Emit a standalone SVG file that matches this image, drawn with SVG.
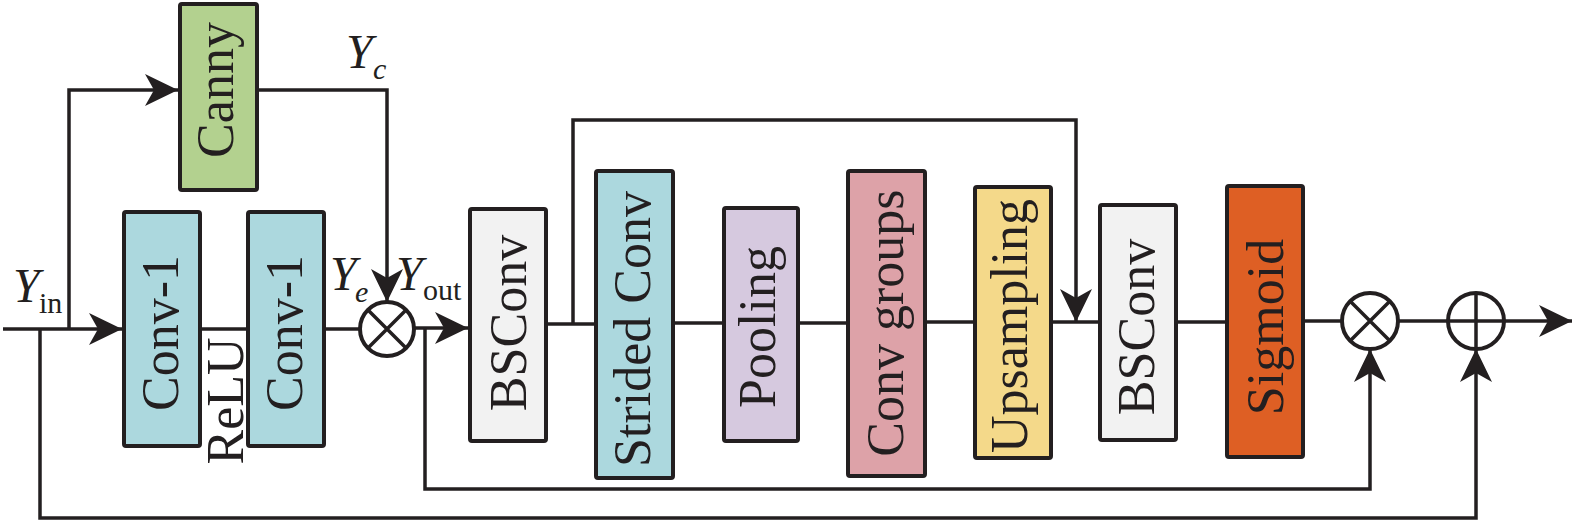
<svg xmlns="http://www.w3.org/2000/svg" width="1575" height="522" viewBox="0 0 1575 522">
<style>
.box{stroke:#231f20;stroke-width:4;}
.lbl{font-family:"Liberation Serif","Times New Roman",serif;font-size:52px;fill:#231f20;text-anchor:middle;}
.ln{fill:none;stroke:#231f20;stroke-width:3.5;}
.ar{fill:none;stroke:#231f20;stroke-width:3.5;marker-end:url(#ah);}
.op{fill:#ffffff;stroke:#231f20;stroke-width:4;}
.opl{stroke:#231f20;stroke-width:3.5;}
.math{font-family:"Liberation Serif","Times New Roman",serif;fill:#231f20;}
</style>
<defs>
<marker id="ah" viewBox="0 0 33 32" refX="33" refY="16" markerWidth="33" markerHeight="32" markerUnits="userSpaceOnUse" orient="auto">
<path d="M0,0 L33,16 L0,32 L9,16 Z" fill="#231f20"/>
</marker>
</defs>
<rect width="1575" height="522" fill="#ffffff"/>

<g id="connectors">
<path class="ar" d="M3,329 H122"/>
<path class="ar" d="M69,329 V90 H178"/>
<path class="ar" d="M40,329 V518 H1476 V349"/>
<path class="ln" d="M202,329 H246"/>
<path class="ln" d="M326,329 H360"/>
<path class="ar" d="M259,90 H387 V302"/>
<path class="ar" d="M414,328 H468"/>
<path class="ar" d="M425,328 V489 H1370 V349"/>
<path class="ln" d="M548,324 H594"/>
<path class="ar" d="M573,324 V120 H1076 V322"/>
<path class="ln" d="M675,323 H722"/>
<path class="ln" d="M800,323 H846"/>
<path class="ln" d="M927,322 H973"/>
<path class="ln" d="M1053,322 H1098"/>
<path class="ln" d="M1178,322 H1225"/>
<path class="ln" d="M1305,321 H1342"/>
<path class="ln" d="M1398,321 H1448"/>
<path class="ar" d="M1504,321 H1572"/>
</g>

<g id="canny">
<rect class="box" x="180" y="4" width="77" height="186" rx="2" fill="#b3d18f"/>
<text class="lbl" transform="translate(233,90) rotate(-90)">Canny</text>
</g>
<g id="conv1a">
<rect class="box" x="124" y="212" width="76" height="234" rx="2" fill="#acd8de"/>
<text class="lbl" transform="translate(178,333) rotate(-90)">Conv-1</text>
</g>
<g id="relu">
<text class="lbl" transform="translate(243,401) rotate(-90)">ReLU</text>
</g>
<g id="conv1b">
<rect class="box" x="248" y="212" width="76" height="234" rx="2" fill="#acd8de"/>
<text class="lbl" transform="translate(302,333) rotate(-90)">Conv-1</text>
</g>
<g id="mul1">
<circle class="op" cx="387" cy="329" r="27"/>
<path class="opl" d="M368,310 L406,348 M406,310 L368,348"/>
</g>
<g id="bsconv1">
<rect class="box" x="470" y="209" width="76" height="232" rx="2" fill="#f2f2f2"/>
<text class="lbl" transform="translate(526,323) rotate(-90)">BSConv</text>
</g>
<g id="strided">
<rect class="box" x="596" y="171" width="77" height="307" rx="2" fill="#acd8de"/>
<text class="lbl" transform="translate(650,329) rotate(-90)">Strided Conv</text>
</g>
<g id="pooling">
<rect class="box" x="724" y="208" width="74" height="233" rx="2" fill="#d6c9df"/>
<text class="lbl" transform="translate(775,327) rotate(-90)">Pooling</text>
</g>
<g id="convgroups">
<rect class="box" x="848" y="171" width="77" height="305" rx="2" fill="#dda2a8"/>
<text class="lbl" transform="translate(903,323) rotate(-90)">Conv groups</text>
</g>
<g id="upsampling">
<rect class="box" x="975" y="187" width="76" height="271" rx="2" fill="#f4d98a"/>
<text class="lbl" transform="translate(1027,326) rotate(-90)">Upsampling</text>
</g>
<g id="bsconv2">
<rect class="box" x="1100" y="205" width="76" height="235" rx="2" fill="#f2f2f2"/>
<text class="lbl" transform="translate(1154,327) rotate(-90)">BSConv</text>
</g>
<g id="sigmoid">
<rect class="box" x="1227" y="186" width="76" height="271" rx="2" fill="#de5f24"/>
<text class="lbl" transform="translate(1283,327) rotate(-90)">Sigmoid</text>
</g>
<g id="mul2">
<circle class="op" cx="1370" cy="321" r="28"/>
<path class="opl" d="M1350,301 L1390,341 M1390,301 L1350,341"/>
</g>
<g id="add">
<circle class="op" cx="1476" cy="321" r="28"/>
<path class="opl" d="M1448,321 H1504 M1476,293 V349"/>
</g>

<g id="labels">
<text class="math" x="13" y="302" font-size="48" font-style="italic">Y</text>
<text class="math" x="39" y="313" font-size="30">in</text>
<text class="math" x="346" y="68" font-size="48" font-style="italic">Y</text>
<text class="math" x="373" y="79" font-size="30" font-style="italic">c</text>
<text class="math" x="330" y="290" font-size="48" font-style="italic">Y</text>
<text class="math" x="355" y="302" font-size="30" font-style="italic">e</text>
<text class="math" x="396" y="290" font-size="48" font-style="italic">Y</text>
<text class="math" x="423" y="300" font-size="30">out</text>
</g>
</svg>
